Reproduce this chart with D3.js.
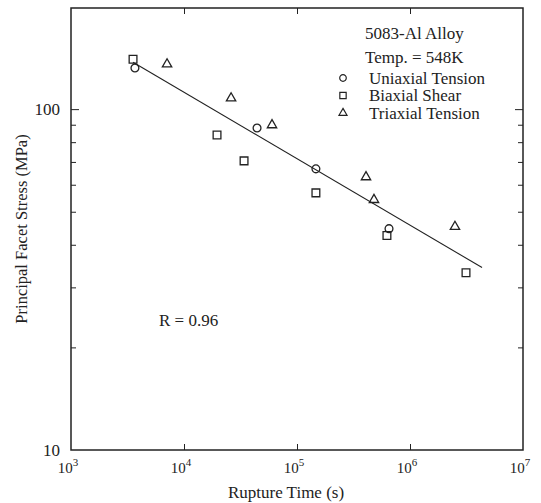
<!DOCTYPE html>
<html>
<head>
<meta charset="utf-8">
<script src="https://cdn.jsdelivr.net/npm/d3@7"></script>
<style>
  body { margin: 0; background: #fff; }
  text { font-family: "Liberation Serif", "Times New Roman", serif; fill: #222; }
</style>
</head>
<body>
<div id="chart"></div>
<script>
// data (time in s, stress in MPa)
var uniTime = [3680, 44300, 147000, 652000];
var uniStress = [132, 88, 66.8, 44.6];
var biTime = [3540, 19600, 34000, 147000, 625000, 3130000];
var biStress = [140, 84, 70.5, 56.8, 42.6, 33.1];
var triTime = [7080, 26100, 60100, 408000, 480000, 2500000];
var triStress = [135.5, 107.7, 89.8, 63.2, 54.2, 45.2];
var fitTime = [3540, 4340000];
var fitStress = [137.3, 34.3];

var xTicks = [3, 4, 5, 6, 7];   // exponents
var yMajor = [10, 100];
var yMinor = [20, 30, 40, 50, 60, 70, 80, 90];
var legendNames = ["Uniaxial Tension", "Biaxial Shear", "Triaxial Tension"];

var W = 541, H = 503;
var margin = { left: 71, top: 8, right: 18, bottom: 53 };
var w = W - margin.left - margin.right;
var h = H - margin.top - margin.bottom;

var svg = d3.select("#chart").append("svg")
    .attr("width", W)
    .attr("height", H);

var g = svg.append("g")
    .attr("transform", "translate(" + margin.left + "," + margin.top + ")");

var x = d3.scaleLog().domain([1e3, 1e7]).range([0, w]);
var y = d3.scaleLog().domain([10, 198]).range([h, 0]);

// frame
g.append("rect")
    .attr("width", w).attr("height", h)
    .attr("fill", "none").attr("stroke", "#222").attr("stroke-width", 1.5);

// x ticks, bottom and top, pointing inward
var xInner = xTicks.slice(1, -1).map(function (e) { return Math.pow(10, e); });
g.append("g").attr("transform", "translate(0," + h + ")")
    .call(d3.axisBottom(x).tickValues(xInner).tickSize(-6).tickFormat(""));
g.append("g")
    .call(d3.axisTop(x).tickValues(xInner).tickSize(-6).tickFormat(""));

// y ticks, left and right
g.append("g").call(d3.axisLeft(y).tickValues([100]).tickSize(-8).tickFormat(""));
g.append("g").call(d3.axisLeft(y).tickValues(yMinor).tickSize(-5).tickFormat(""));
g.append("g").attr("transform", "translate(" + w + ",0)")
    .call(d3.axisRight(y).tickValues([100]).tickSize(-8).tickFormat(""));
g.append("g").attr("transform", "translate(" + w + ",0)")
    .call(d3.axisRight(y).tickValues(yMinor).tickSize(-5).tickFormat(""));
g.selectAll(".domain").remove();
g.selectAll(".tick line").attr("stroke", "#222");

// y tick labels
g.selectAll(".ylab").data(yMajor).enter().append("text")
    .attr("x", -11)
    .attr("y", function (d) { return y(d); })
    .attr("dy", "0.35em")
    .attr("text-anchor", "end")
    .style("font-size", "17px")
    .text(function (d) { return d; });

// x tick labels 10^n
var xl = g.selectAll(".xlab").data(xTicks).enter().append("text")
    .attr("x", function (d) { return x(Math.pow(10, d)) - 3; })
    .attr("y", h + 23)
    .attr("text-anchor", "middle")
    .style("font-size", "15px");
xl.append("tspan").text("10");
xl.append("tspan").attr("dy", -7).style("font-size", "11px")
    .text(function (d) { return d; });

// axis titles
svg.append("text")
    .attr("x", 286)
    .attr("y", 498)
    .attr("text-anchor", "middle")
    .style("font-size", "17px")
    .text("Rupture Time (s)");

svg.append("text")
    .attr("transform", "translate(27,229) rotate(-90)")
    .attr("text-anchor", "middle")
    .style("font-size", "16.5px")
    .text("Principal Facet Stress (MPa)");

// fit line
var line = d3.line()
    .x(function (d) { return x(d[0]); })
    .y(function (d) { return y(d[1]); });
g.append("path")
    .datum(d3.zip(fitTime, fitStress))
    .attr("d", line)
    .attr("fill", "none").attr("stroke", "#222").attr("stroke-width", 1.1);

// markers
var sym = {
    circle: d3.symbol().type(d3.symbolCircle).size(48),
    square: d3.symbol().type(d3.symbolSquare).size(60),
    triangle: d3.symbol().type(d3.symbolTriangle).size(38)
};
function drawPts(times, stresses, shape) {
    g.append("g").selectAll("path")
        .data(d3.zip(times, stresses))
        .enter().append("path")
        .attr("transform", function (d) { return "translate(" + x(d[0]) + "," + y(d[1]) + ")"; })
        .attr("d", sym[shape])
        .attr("fill", "none").attr("stroke", "#222").attr("stroke-width", 1.3);
}
drawPts(biTime, biStress, "square");
drawPts(uniTime, uniStress, "circle");
drawPts(triTime, triStress, "triangle");

// legend
var leg = svg.append("g");
leg.append("text").attr("x", 365).attr("y", 39).style("font-size", "17px").text("5083-Al Alloy");
leg.append("text").attr("x", 365).attr("y", 63).style("font-size", "17px").text("Temp. = 548K");
var shapes = ["circle", "square", "triangle"];
var legSym = {
    circle: d3.symbol().type(d3.symbolCircle).size(34),
    square: d3.symbol().type(d3.symbolSquare).size(40),
    triangle: d3.symbol().type(d3.symbolTriangle).size(28)
};
legendNames.forEach(function (name, i) {
    var yy = 78 + i * 17.5;
    leg.append("path")
        .attr("transform", "translate(343," + yy + ")")
        .attr("d", legSym[shapes[i]])
        .attr("fill", "none").attr("stroke", "#222").attr("stroke-width", 1.2);
    leg.append("text").attr("x", 369).attr("y", yy).attr("dy", "0.35em")
        .style("font-size", "17px").text(name);
});

// correlation
svg.append("text").attr("x", 159).attr("y", 320).attr("dy", "0.35em")
    .style("font-size", "17px").text("R = 0.96");
</script>
</body>
</html>
